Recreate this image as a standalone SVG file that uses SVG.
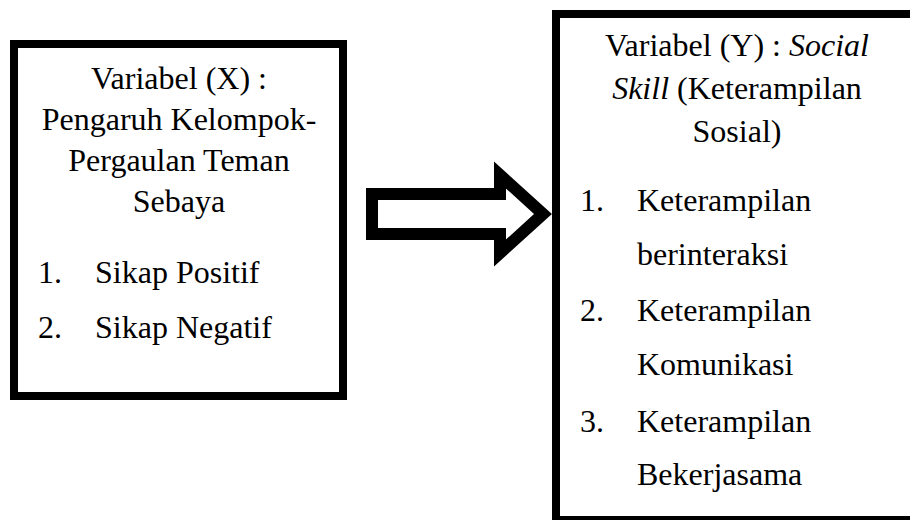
<svg xmlns="http://www.w3.org/2000/svg" width="910" height="520" viewBox="0 0 910 520">
<style>
.box{fill:#fff;stroke:#000;stroke-width:8}
.t{font-family:"Liberation Serif","Times New Roman",serif;font-size:32px;fill:#000}
.c{text-anchor:middle}
.i{font-style:italic}
.arrow{fill:#fff;stroke:#000;stroke-width:12;stroke-linejoin:miter;stroke-miterlimit:10}
</style>
<rect width="910" height="520" fill="#fff"/>
<g id="nodeX">
<rect class="box" x="14" y="44" width="329" height="352"/>
<text class="t c" x="179" y="89">Variabel (X) :</text>
<text class="t c" x="179" y="130">Pengaruh Kelompok-</text>
<text class="t c" x="179" y="171">Pergaulan Teman</text>
<text class="t c" x="179" y="212">Sebaya</text>
<text class="t" x="38" y="283">1.</text>
<text class="t" x="95" y="283">Sikap Positif</text>
<text class="t" x="38" y="338">2.</text>
<text class="t" x="95" y="338">Sikap Negatif</text>
</g>
<g id="nodeY">
<rect class="box" x="556" y="14" width="400" height="506"/>
<text class="t c" x="737" y="56">Variabel (Y) : <tspan class="i">Social</tspan></text>
<text class="t c" x="737" y="99"><tspan class="i">Skill</tspan> (Keterampilan</text>
<text class="t c" x="737" y="142">Sosial)</text>
<text class="t" x="580" y="211">1.</text>
<text class="t" x="637" y="211">Keterampilan</text>
<text class="t" x="637" y="265">berinteraksi</text>
<text class="t" x="580" y="321">2.</text>
<text class="t" x="637" y="321">Keterampilan</text>
<text class="t" x="637" y="375">Komunikasi</text>
<text class="t" x="580" y="432">3.</text>
<text class="t" x="637" y="432">Keterampilan</text>
<text class="t" x="637" y="485">Bekerjasama</text>
</g>
<g id="connectors">
<polygon class="arrow" points="372,194 500,194 500,175 543,214 500,253 500,234 372,234"/>
</g>
</svg>
